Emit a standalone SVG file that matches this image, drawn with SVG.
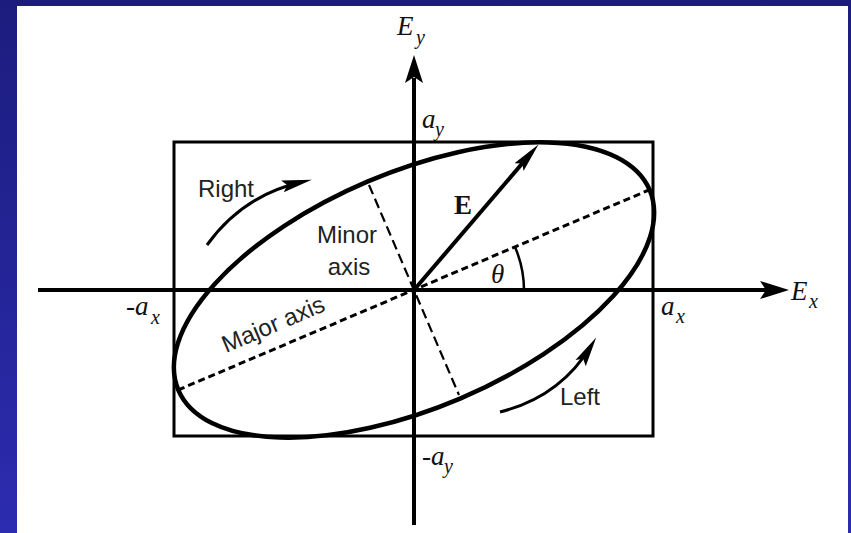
<svg xmlns="http://www.w3.org/2000/svg" width="851" height="533" viewBox="0 0 851 533">
<style>
.m{font-family:"Liberation Serif","Times New Roman",serif;font-style:italic;font-size:27px;fill:#111}
.ms{font-family:"Liberation Serif","Times New Roman",serif;font-style:italic;font-size:20px;fill:#111}
.s{font-family:"Liberation Sans",Arial,sans-serif;font-size:24px;fill:#222}
.ln{fill:none;stroke:#000}
.dash{fill:none;stroke:#000;stroke-width:3;stroke-dasharray:7 4}
.dash2{fill:none;stroke:#000;stroke-width:2.2;stroke-dasharray:10 5}
</style>
<defs>
<linearGradient id="bg" x1="0" y1="0" x2="0" y2="1">
<stop offset="0" stop-color="#1c1c7e"/>
<stop offset="1" stop-color="#2c2cb0"/>
</linearGradient>
<marker id="head" markerUnits="userSpaceOnUse" markerWidth="32" markerHeight="20" viewBox="0 0 32 20" refX="20" refY="10" orient="auto">
<path d="M0,4 L30,10 L0,16 L5,10 Z" fill="#000"/>
</marker>
</defs>
<rect x="0" y="0" width="851" height="533" fill="url(#bg)"/>
<rect x="17" y="6" width="831" height="527" fill="#fff"/>

<g id="box">
<rect x="174" y="142" width="479" height="294" class="ln" stroke-width="3"/>
</g>

<g id="connectors">
<line x1="38" y1="290" x2="766" y2="290" class="ln" stroke-width="4"/>
<polygon points="789,290 760,281 766,290 760,299" fill="#000"/>
<line x1="414" y1="525" x2="414" y2="78" class="ln" stroke-width="4"/>
<polygon points="414,55 405,83 414,77 423,83" fill="#000"/>
<line x1="178" y1="390" x2="649" y2="190" class="dash"/>
<line x1="369" y1="185" x2="459" y2="395" class="dash2"/>
<line x1="414" y1="290" x2="532" y2="152" class="ln" stroke-width="4" marker-end="url(#head)"/>
<path d="M524,290 A110,110 0 0 0 515,247" class="ln" stroke-width="2.5"/>
<path d="M207,245 Q243,195 302,182" class="ln" stroke-width="3" marker-end="url(#head)"/>
<path d="M500,412 Q560,397 591,346" class="ln" stroke-width="3" marker-end="url(#head)"/>
</g>

<g id="ellipse">
<ellipse cx="414" cy="290" rx="256" ry="118" transform="rotate(-23 414 290)" class="ln" stroke-width="4.5"/>
</g>

<g id="labels">
<text x="397" y="35" class="m">E</text><text x="416" y="44" class="ms">y</text>
<text x="791" y="300" class="m">E</text><text x="809" y="308" class="ms">x</text>
<text x="422" y="128" class="m">a</text><text x="435" y="136" class="ms">y</text>
<text x="126" y="315" class="m">-a</text><text x="151" y="324" class="ms">x</text>
<text x="661" y="315" class="m">a</text><text x="676" y="323" class="ms">x</text>
<text x="422" y="465" class="m">-a</text><text x="444" y="473" class="ms">y</text>
<text x="454" y="214" font-family="Liberation Serif, serif" font-weight="bold" font-size="27" fill="#111">E</text>
<text x="491" y="283" class="m" font-size="26">θ</text>
<text x="198" y="197" class="s">Right</text>
<text x="347" y="243" class="s" text-anchor="middle">Minor</text>
<text x="349" y="275" class="s" text-anchor="middle">axis</text>
<text x="560" y="405" class="s">Left</text>
<text x="226" y="353" class="s" transform="rotate(-23 226 353)">Major axis</text>
</g>
</svg>
